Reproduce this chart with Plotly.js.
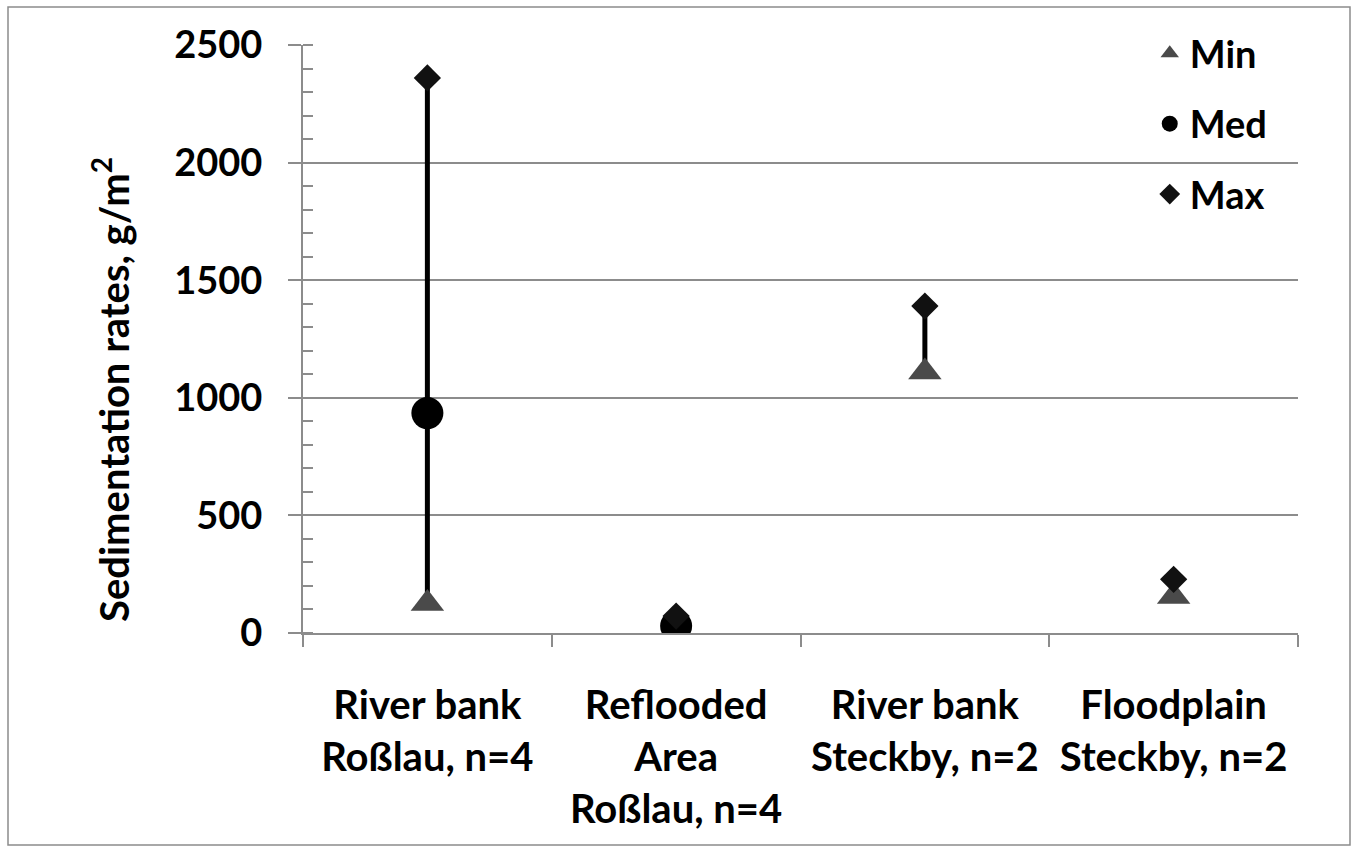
<!DOCTYPE html>
<html>
<head>
<meta charset="utf-8">
<script src="https://cdn.plot.ly/plotly-3.0.1.min.js"></script>
<style>
  html, body { margin: 0; padding: 0; background: #fff; }
  #chart { width: 1357px; height: 852px; }
</style>
</head>
<body>
<div id="chart"></div>
<script>
// ---- data ----
const categories = [
  "River bank<br>Roßlau, n=4",
  "Reflooded<br>Area<br>Roßlau, n=4",
  "River bank<br>Steckby, n=2",
  "Floodplain<br>Steckby, n=2"
];
const minValues = [125, 5, 1110, 155];
const medValues = [935, 30, null, null];
const maxValues = [2360, 72, 1390, 228];
const yTickValues = [0, 500, 1000, 1500, 2000, 2500];
const yTickLabels = ["0", "500", "1000", "1500", "2000", "2500"];
const yTitle = "Sedimentation rates, g/m<sup>2</sup>";

// ---- build traces ----
const xPos = categories.map((c, i) => i + 1);
const lineX = [], lineY = [];
xPos.forEach((x, i) => {
  lineX.push(x, x, null);
  lineY.push(minValues[i], maxValues[i], null);
});

const gray = "#8c8c8c";
const fontBase = { family: "Lato, 'Open Sans', sans-serif", weight: "bold", color: "#000" };

const traces = [
  {
    x: lineX, y: lineY, mode: "lines", type: "scatter",
    line: { color: "#000", width: 5 }, showlegend: false, hoverinfo: "skip"
  },
  {
    x: xPos, y: minValues, name: "Min", mode: "markers", type: "scatter", legendgroup: "a",
    marker: { symbol: "triangle-up", size: 29, color: "#4a4a4a" }
  },
  {
    x: xPos, y: medValues, name: "Med", mode: "markers", type: "scatter", legendgroup: "b",
    marker: { symbol: "circle", size: 32, color: "#000" }
  },
  {
    x: xPos, y: maxValues, name: "Max", mode: "markers", type: "scatter", legendgroup: "c",
    marker: { symbol: "diamond", size: 21, color: "#111" }
  }
];

const layout = {
  width: 1357, height: 852,
  margin: { l: 303, r: 59, t: 45, b: 219 },
  paper_bgcolor: "#fff", plot_bgcolor: "#fff",
  font: Object.assign({ size: 38 }, fontBase),
  showlegend: true,
  legend: {
    x: 0.851, y: 1.039, xanchor: "left", yanchor: "top",
    font: Object.assign({ size: 38 }, fontBase),
    bgcolor: "rgba(0,0,0,0)", tracegroupgap: 18
  },
  xaxis: {
    range: [0.5, 4.5], tickmode: "array", tickvals: xPos, ticktext: categories,
    ticks: "", showgrid: false, zeroline: false,
    showline: true, linecolor: gray, linewidth: 2,
    tickfont: Object.assign({ size: 40 }, fontBase),
    ticklabelstandoff: 36,
    minor: { tickmode: "array", tickvals: [0.5, 1.5, 2.5, 3.5, 4.5], ticks: "outside", ticklen: 12, tickwidth: 2, tickcolor: gray, showgrid: false }
  },
  yaxis: {
    range: [0, 2500], tickmode: "array", tickvals: yTickValues, ticktext: yTickLabels,
    ticks: "outside", ticklen: 13, tickwidth: 2, tickcolor: gray,
    showgrid: true, gridcolor: gray, gridwidth: 2, zeroline: false,
    showline: true, linecolor: gray, linewidth: 2,
    tickfont: Object.assign({ size: 38 }, fontBase),
    ticklabelstandoff: 18,
    minor: { dtick: 100, tick0: 0, ticks: "inside", ticklen: 10, tickwidth: 2, tickcolor: gray, showgrid: false }
  },
  annotations: [{
    text: yTitle, xref: "paper", yref: "paper",
    x: (111 - 303) / 995, y: (633 - 390) / 588, textangle: -90,
    showarrow: false, xanchor: "center", yanchor: "middle",
    font: Object.assign({ size: 40 }, fontBase)
  }],
  shapes: [{
    type: "rect", xref: "paper", yref: "paper", layer: "below",
    x0: (8 - 303) / 995, x1: (1350 - 303) / 995,
    y0: (633 - 845) / 588, y1: (633 - 7) / 588,
    line: { color: gray, width: 1.5 }, fillcolor: "rgba(0,0,0,0)"
  }]
};

Plotly.newPlot("chart", traces, layout, { staticPlot: true, displayModeBar: false });
</script>
</body>
</html>
